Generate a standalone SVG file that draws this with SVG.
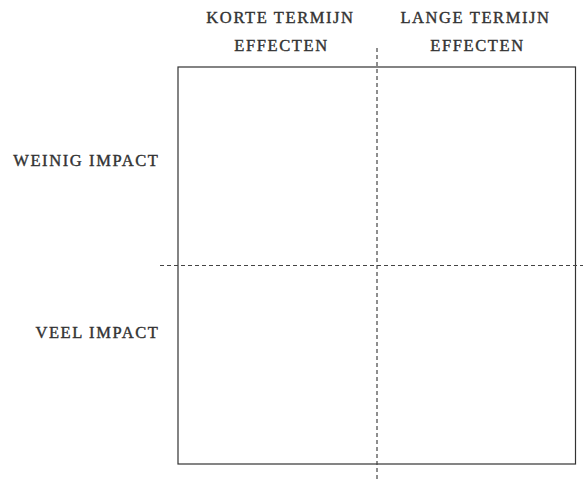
<svg xmlns="http://www.w3.org/2000/svg" width="583" height="479" viewBox="0 0 583 479">
<style>
.lbl{font-family:"Liberation Serif",serif;font-size:16.5px;fill:#333;stroke:#333;stroke-width:0.4;letter-spacing:1.6px}
.c{text-anchor:middle}
.r{text-anchor:end}
.box{fill:none;stroke:#333;stroke-width:1.2}
.dash{stroke:#444;stroke-width:1.2;stroke-dasharray:4 3;fill:none}
</style>
<rect width="583" height="479" fill="#fff"/>
<g id="quadrant">
<rect class="box" x="178" y="67" width="397.5" height="397"/>
</g>
<g id="connectors">
<line class="dash" x1="377" y1="48" x2="377" y2="479"/>
<line class="dash" x1="160" y1="265.5" x2="583" y2="265.5"/>
</g>
<g id="col-short"><text class="lbl c" x="280.5" y="23">KORTE TERMIJN</text><text class="lbl c" x="281.5" y="51">EFFECTEN</text></g>
<g id="col-long"><text class="lbl c" x="475.5" y="23">LANGE TERMIJN</text><text class="lbl c" x="477.5" y="51">EFFECTEN</text></g>
<g id="row-low"><text class="lbl r" x="159.5" y="166">WEINIG IMPACT</text></g>
<g id="row-high"><text class="lbl r" x="159.5" y="338">VEEL IMPACT</text></g>
</svg>
